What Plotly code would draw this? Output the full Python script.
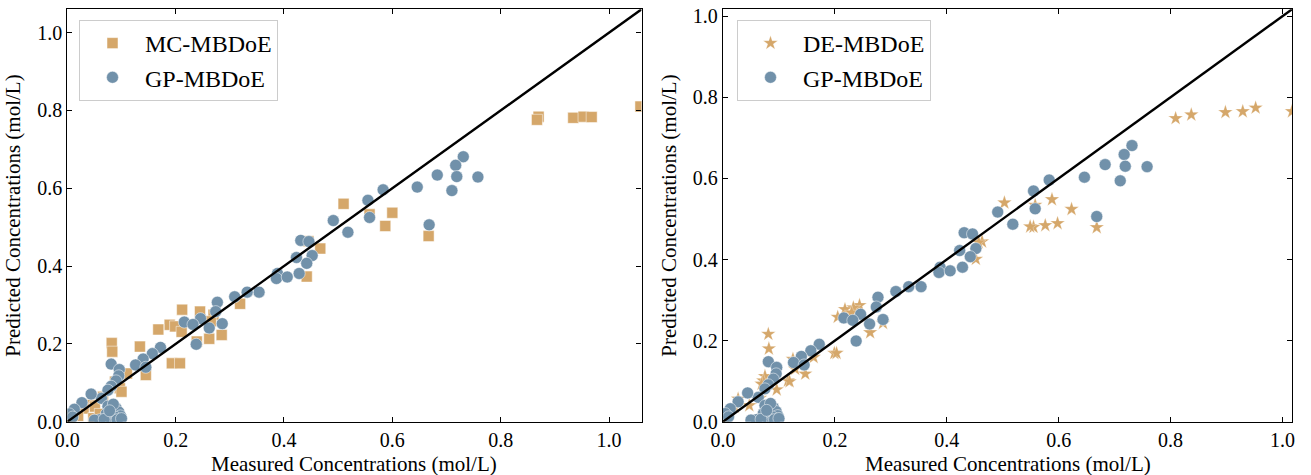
import plotly.graph_objects as go

# GP-MBDoE (shared in both panels)
gp_x = [0.731, 0.717, 0.683, 0.719, 0.758, 0.646, 0.710, 0.583, 0.555, 0.558, 0.668,
        0.491, 0.518, 0.431, 0.446, 0.423, 0.452, 0.442, 0.428, 0.388, 0.386, 0.406,
        0.354, 0.332, 0.309, 0.277, 0.274, 0.246, 0.216, 0.232, 0.262, 0.286, 0.238,
        0.172, 0.157, 0.140, 0.126, 0.145, 0.081, 0.096, 0.095, 0.090, 0.081, 0.075,
        0.063, 0.044, 0.027, 0.013, 0.004, 0.010,
        0.075, 0.082, 0.090, 0.095, 0.098, 0.088, 0.080, 0.072, 0.092, 0.100, 0.060,
        0.050, 0.085, 0.068, 0.078]
gp_y = [0.681, 0.659, 0.634, 0.630, 0.629, 0.603, 0.594, 0.596, 0.569, 0.525, 0.506,
        0.517, 0.487, 0.466, 0.463, 0.422, 0.427, 0.407, 0.381, 0.381, 0.368, 0.372,
        0.333, 0.333, 0.321, 0.307, 0.283, 0.265, 0.256, 0.250, 0.241, 0.252, 0.199,
        0.191, 0.175, 0.161, 0.146, 0.140, 0.148, 0.134, 0.118, 0.105, 0.091, 0.081,
        0.060, 0.071, 0.049, 0.032, 0.020, 0.012,
        0.040, 0.030, 0.035, 0.025, 0.015, 0.012, 0.010, 0.020, 0.005, 0.008, 0.005,
        0.004, 0.045, 0.006, 0.028]

# MC-MBDoE (left panel)
mc_x = [0.870, 0.867, 0.934, 0.953, 0.968, 1.058, 0.600, 0.587, 0.667, 0.510, 0.558,
        0.445, 0.467, 0.442, 0.319, 0.270, 0.245, 0.212, 0.189, 0.199, 0.168, 0.211,
        0.262, 0.285, 0.239, 0.193, 0.208, 0.265, 0.082, 0.083, 0.134, 0.110, 0.145,
        0.088, 0.097, 0.100, 0.066, 0.045, 0.051, 0.030, 0.011, 0.048, 0.005, 0.020,
        0.060]
mc_y = [0.784, 0.776, 0.781, 0.784, 0.783, 0.810, 0.537, 0.503, 0.477, 0.560, 0.533,
        0.464, 0.445, 0.373, 0.303, 0.275, 0.283, 0.288, 0.249, 0.245, 0.237, 0.231,
        0.213, 0.223, 0.206, 0.150, 0.150, 0.258, 0.202, 0.180, 0.193, 0.124, 0.120,
        0.103, 0.086, 0.077, 0.064, 0.043, 0.039, 0.034, 0.021, 0.009, 0.010, 0.015,
        0.020]

# DE-MBDoE (right panel)
de_x = [0.809, 0.837, 0.898, 0.929, 0.952, 1.017, 0.588, 0.623, 0.558, 0.555, 0.576,
        0.598, 0.668, 0.503, 0.549, 0.463, 0.457, 0.452, 0.244, 0.233, 0.218, 0.205,
        0.263, 0.286, 0.199, 0.203, 0.081, 0.082, 0.162, 0.125, 0.147, 0.129, 0.116,
        0.119, 0.075, 0.072, 0.069, 0.096, 0.066, 0.027, 0.047, 0.021, 0.230, 0.010,
        0.005]
de_y = [0.748, 0.757, 0.763, 0.765, 0.774, 0.765, 0.548, 0.524, 0.534, 0.480, 0.484,
        0.489, 0.479, 0.540, 0.481, 0.444, 0.442, 0.401, 0.287, 0.281, 0.277, 0.258,
        0.220, 0.243, 0.169, 0.169, 0.216, 0.180, 0.159, 0.154, 0.118, 0.130, 0.101,
        0.099, 0.112, 0.101, 0.093, 0.079, 0.058, 0.056, 0.040, 0.036, 0.269, 0.015,
        0.008]

left_max = 1.06
right_max = 1.017
ticks = [0.0, 0.2, 0.4, 0.6, 0.8, 1.0]
tick_text = ["0.0", "0.2", "0.4", "0.6", "0.8", "1.0"]
x_title = "Measured Concentrations (mol/L)"
y_title = "Predicted Concentrations (mol/L)"

TAN = "#D5A76A"
BLUE = "#7191AA"
FONT = "Liberation Serif"

fig = go.Figure()

fig.add_trace(go.Scatter(x=mc_x, y=mc_y, mode="markers", name="MC-MBDoE",
                         marker=dict(symbol="square", size=11, color=TAN,
                                     line=dict(color="white", width=0.5)),
                         xaxis="x", yaxis="y", legend="legend"))
fig.add_trace(go.Scatter(x=gp_x, y=gp_y, mode="markers", name="GP-MBDoE",
                         marker=dict(symbol="circle", size=12, color=BLUE,
                                     line=dict(color="white", width=0.5)),
                         xaxis="x", yaxis="y", legend="legend"))
fig.add_trace(go.Scatter(x=[0, left_max], y=[0, left_max], mode="lines",
                         line=dict(color="black", width=2.4), showlegend=False,
                         xaxis="x", yaxis="y"))

fig.add_trace(go.Scatter(x=de_x, y=de_y, mode="markers", name="DE-MBDoE",
                         marker=dict(symbol="star", size=11, color=TAN,
                                     line=dict(color="white", width=0.3)),
                         xaxis="x2", yaxis="y2", legend="legend2"))
fig.add_trace(go.Scatter(x=gp_x, y=gp_y, mode="markers", name="GP-MBDoE",
                         marker=dict(symbol="circle", size=12, color=BLUE,
                                     line=dict(color="white", width=0.5)),
                         xaxis="x2", yaxis="y2", legend="legend2"))
fig.add_trace(go.Scatter(x=[0, right_max], y=[0, right_max], mode="lines",
                         line=dict(color="black", width=2.4), showlegend=False,
                         xaxis="x2", yaxis="y2"))

axis_common = dict(showline=True, linecolor="black", linewidth=1.3, mirror="allticks",
                   ticks="inside", ticklen=5, tickwidth=1, tickcolor="black",
                   showgrid=False, zeroline=False, tickvals=ticks, ticktext=tick_text,
                   automargin=False,
                   tickfont=dict(family=FONT, size=20, color="black"))
title_font = dict(family=FONT, size=21, color="black")

ydom = [53.3 / 475, 465.7 / 475]
lx = [67.3 / 1311, 641.5 / 1311]
rx = [723 / 1311, 1292 / 1311]
fig.update_layout(
    width=1311, height=475,
    margin=dict(l=0, r=0, t=0, b=0),
    paper_bgcolor="white", plot_bgcolor="white",
    xaxis=dict(domain=lx, range=[0, left_max], anchor="y", **axis_common),
    yaxis=dict(domain=ydom, range=[0, left_max], anchor="x",
               title=dict(text=y_title, font=title_font, standoff=10),
               **axis_common),
    xaxis2=dict(domain=rx, range=[0, right_max], anchor="y2", **axis_common),
    yaxis2=dict(domain=ydom, range=[0, right_max], anchor="x2",
                title=dict(text=y_title, font=title_font, standoff=10),
                **axis_common),
    legend=dict(x=79 / 1311, y=1 - 20 / 475, xanchor="left", yanchor="top",
                bordercolor="#CCCCCC", borderwidth=1, bgcolor="rgba(255,255,255,0.8)",
                font=dict(family=FONT, size=24, color="black"), itemwidth=55,
                tracegroupgap=0),
    legend2=dict(x=737 / 1311, y=1 - 20 / 475, xanchor="left", yanchor="top",
                 bordercolor="#CCCCCC", borderwidth=1, bgcolor="rgba(255,255,255,0.8)",
                 font=dict(family=FONT, size=24, color="black"), itemwidth=55,
                 tracegroupgap=0),
    annotations=[
        dict(text=x_title, xref="paper", yref="paper", x=(lx[0] + lx[1]) / 2,
             y=(475 - 463.5) / 475, xanchor="center", yanchor="middle",
             showarrow=False, font=title_font),
        dict(text=x_title, xref="paper", yref="paper", x=(rx[0] + rx[1]) / 2,
             y=(475 - 463.5) / 475, xanchor="center", yanchor="middle",
             showarrow=False, font=title_font),
    ],
)

fig.write_html("out.html")
